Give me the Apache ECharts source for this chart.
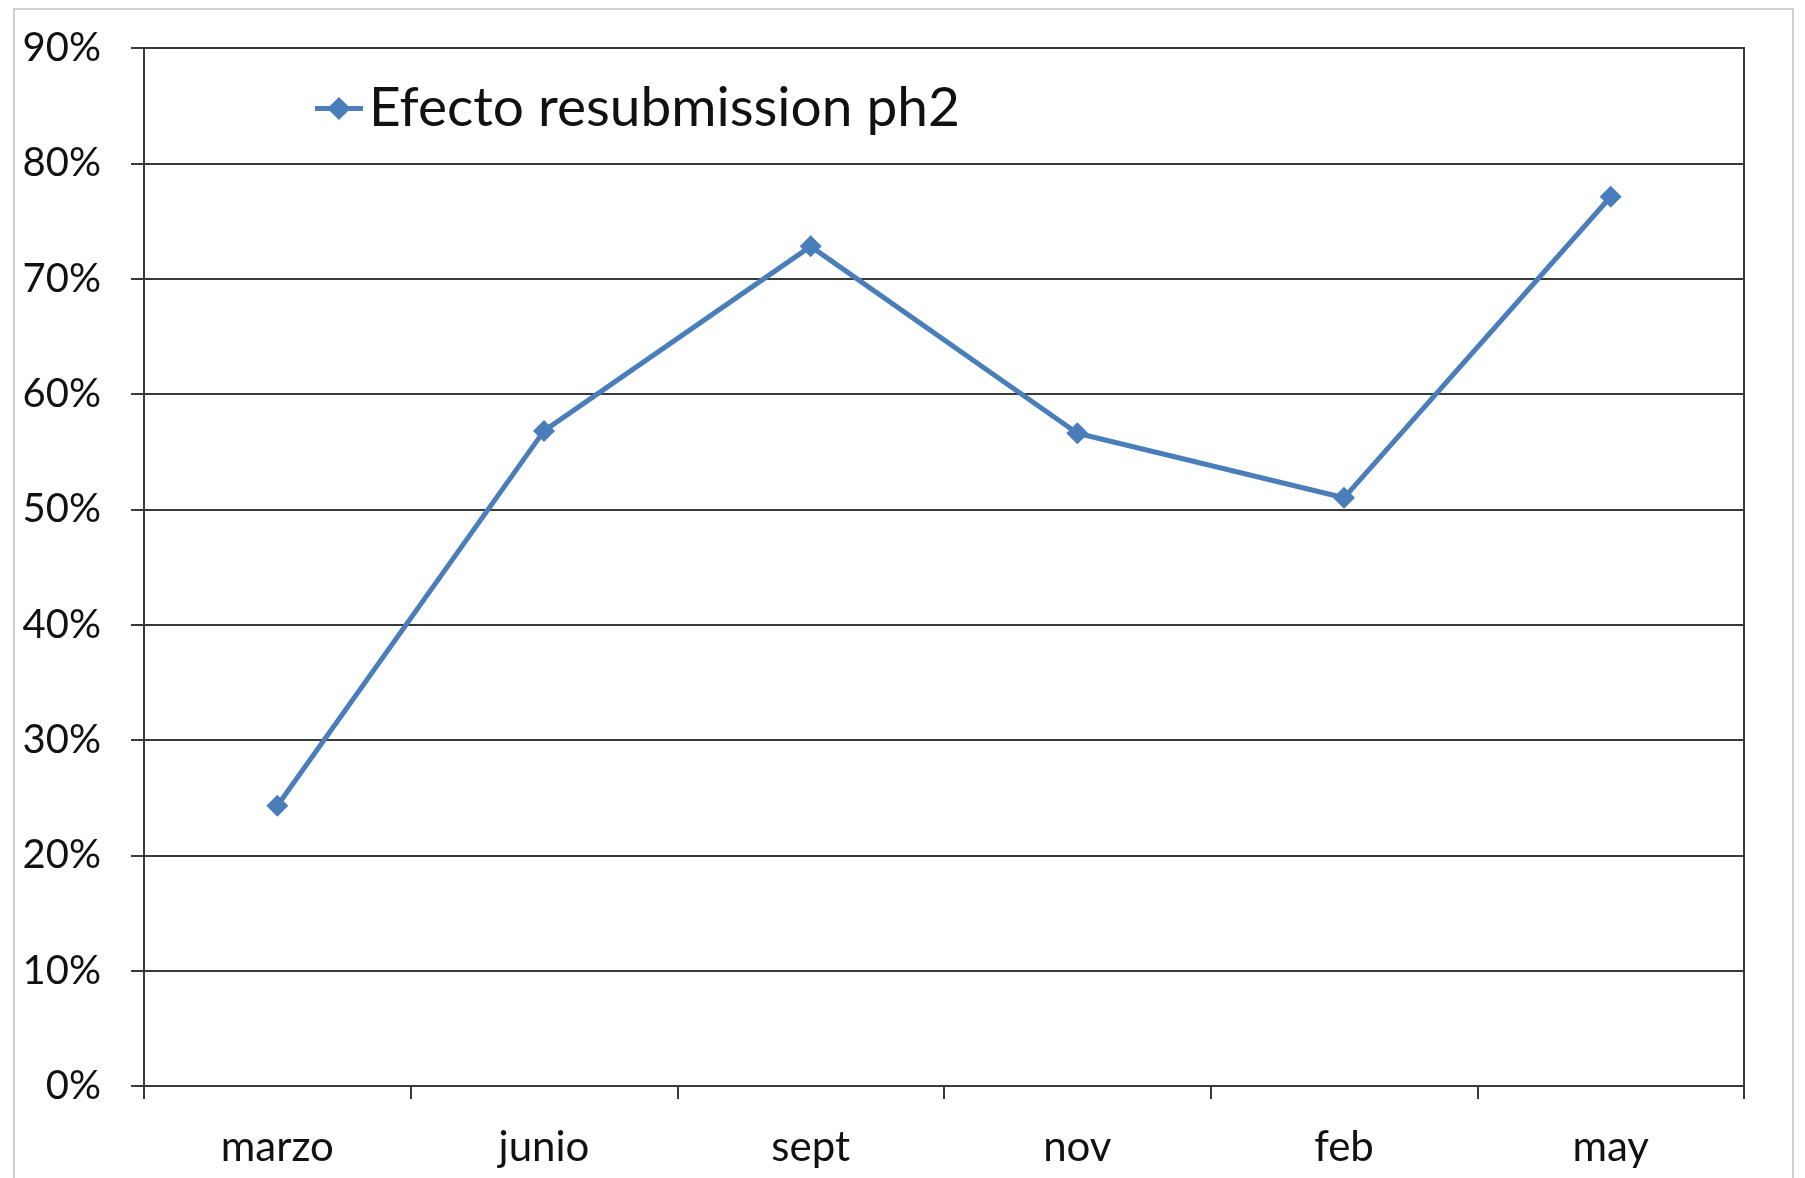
<!DOCTYPE html>
<html>
<head>
<meta charset="utf-8">
<script src="https://cdn.jsdelivr.net/npm/echarts@6/dist/echarts.min.js"></script>
<style>
  html, body { margin: 0; padding: 0; background: #fff; }
  #chart { width: 1805px; height: 1178px; }
</style>
</head>
<body>
<div id="chart"></div>
<script>
// Monthly categories and the resubmission effect (percent)
const categories = ['marzo', 'junio', 'sept', 'nov', 'feb', 'may'];
const seriesName = 'Efecto resubmission ph2';
const values = [24.3, 56.8, 72.8, 56.6, 51.0, 77.1];

const FONT = 'Lato, "Open Sans", "Noto Sans", sans-serif';
const LINE_BLUE = '#4a7ebb';
const AXIS_DARK = '#3a3a3a';

// Legend key: thick line segment with a diamond in the middle
const LEGEND_ICON = 'path://M0,9.5 L15.5,9.5 L25,0 L34.5,9.5 L50,9.5 L50,14.5 L34.5,14.5 L25,24 L15.5,14.5 L0,14.5 Z';

const chart = echarts.init(document.getElementById('chart'), null, { renderer: 'canvas' });

chart.setOption({
  backgroundColor: '#ffffff',
  animation: false,
  graphic: [{
    type: 'rect',
    shape: { x: 14, y: 9, width: 1779, height: 1200 },
    style: { fill: 'none', stroke: '#d0d0d0', lineWidth: 2 },
    z: -1
  }],
  grid: {
    left: 144, right: 61, top: 48, bottom: 92,
    show: true,
    borderColor: AXIS_DARK,
    borderWidth: 2,
    backgroundColor: 'transparent'
  },
  legend: {
    data: [{ name: seriesName, icon: LEGEND_ICON }],
    left: 310,
    top: 76,
    itemWidth: 50,
    itemHeight: 23,
    itemGap: 4,
    itemStyle: { color: LINE_BLUE, borderWidth: 0 },
    lineStyle: { width: 0 },
    textStyle: { fontFamily: FONT, fontSize: 55, color: '#111' }
  },
  xAxis: {
    type: 'category',
    data: categories,
    boundaryGap: true,
    axisLine: { show: true, lineStyle: { color: AXIS_DARK, width: 2 } },
    axisTick: { show: true, length: 13, alignWithLabel: false, lineStyle: { color: AXIS_DARK, width: 2 } },
    axisLabel: { margin: 40, fontFamily: FONT, fontSize: 42, color: '#111' },
    splitLine: { show: false }
  },
  yAxis: {
    type: 'value',
    min: 0,
    max: 90,
    interval: 10,
    axisLine: { show: true, lineStyle: { color: AXIS_DARK, width: 2 } },
    axisTick: { show: true, length: 13, lineStyle: { color: AXIS_DARK, width: 2 } },
    axisLabel: {
      margin: 43,
      fontFamily: FONT, fontSize: 40, color: '#111',
      formatter: v => v + '%'
    },
    splitLine: { show: true, lineStyle: { color: AXIS_DARK, width: 2 } }
  },
  series: [{
    name: seriesName,
    type: 'line',
    data: values,
    symbol: 'diamond',
    symbolSize: 22,
    lineStyle: { color: LINE_BLUE, width: 5 },
    itemStyle: { color: LINE_BLUE },
    emphasis: { disabled: true }
  }]
});
</script>
</body>
</html>
